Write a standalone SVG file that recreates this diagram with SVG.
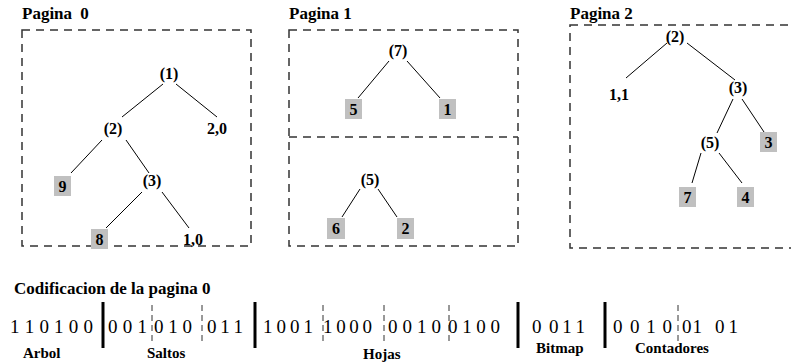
<svg xmlns="http://www.w3.org/2000/svg" width="791" height="363" viewBox="0 0 791 363">
<style>
.page{fill:none;stroke:#333;stroke-width:1.5;stroke-dasharray:8 6}
.edge{stroke:#000;stroke-width:1;fill:none}
.t{font-family:"Liberation Serif","Times New Roman",serif;font-weight:bold;font-size:17px;fill:#000}
.l{font-family:"Liberation Serif","Times New Roman",serif;font-weight:bold;font-size:15px;fill:#000}
.n{font-family:"Liberation Serif","Times New Roman",serif;font-weight:bold;font-size:16px;fill:#000;text-anchor:middle}
.leaf{fill:#c0c0c0}
.bits{font-family:"Liberation Serif","Times New Roman",serif;font-size:19px;fill:#000}
.bar{stroke:#000;stroke-width:3}
.sep{stroke:#333;stroke-width:1;stroke-dasharray:6 4}
</style>
<rect width="791" height="363" fill="#fff"/>
<g id="page0">
<text class="t" x="22" y="19">Pagina <tspan dx="4">0</tspan></text>
<rect class="page" x="22" y="30" width="229" height="216"/>
</g>
<g id="page1">
<text class="t" x="289" y="19">Pagina 1</text>
<rect class="page" x="289" y="30" width="229" height="216"/>
<line class="page" x1="289" y1="137" x2="518" y2="137"/>
</g>
<g id="page2">
<text class="t" x="570" y="19">Pagina 2</text>
<rect class="page" x="570" y="25" width="240" height="223"/>
</g>
<g id="connectors">
<line class="edge" x1="163" y1="84" x2="122" y2="117"/>
<line class="edge" x1="176" y1="84" x2="217" y2="117"/>
<line class="edge" x1="102" y1="140" x2="71" y2="173"/>
<line class="edge" x1="126" y1="140" x2="149" y2="173"/>
<line class="edge" x1="142" y1="192" x2="106" y2="228"/>
<line class="edge" x1="162" y1="192" x2="189" y2="228"/>
<line class="edge" x1="389" y1="61" x2="358" y2="98"/>
<line class="edge" x1="407" y1="61" x2="440" y2="98"/>
<line class="edge" x1="360" y1="189" x2="342" y2="217"/>
<line class="edge" x1="378" y1="189" x2="397" y2="217"/>
<line class="edge" x1="667" y1="43" x2="626" y2="78"/>
<line class="edge" x1="687" y1="43" x2="735" y2="80"/>
<line class="edge" x1="733" y1="99" x2="717" y2="133"/>
<line class="edge" x1="742" y1="99" x2="764" y2="132"/>
<line class="edge" x1="701" y1="153" x2="692" y2="183"/>
<line class="edge" x1="719" y1="153" x2="742" y2="183"/>
</g>
<g id="p0_n1"><text class="n" x="169" y="79">(1)</text></g>
<g id="p0_n2"><text class="n" x="113" y="134">(2)</text></g>
<g id="p0_20"><text class="n" x="217" y="134">2,0</text></g>
<g id="p0_9"><rect class="leaf" x="54" y="176" width="17" height="20"/><text class="n" x="62.5" y="192">9</text></g>
<g id="p0_n3"><text class="n" x="152" y="186">(3)</text></g>
<g id="p0_8"><rect class="leaf" x="91" y="229" width="17" height="20"/><text class="n" x="99.5" y="245">8</text></g>
<g id="p0_10"><text class="n" x="193" y="245">1,0</text></g>
<g id="p1_n7"><text class="n" x="398" y="56">(7)</text></g>
<g id="p1_5"><rect class="leaf" x="345" y="99" width="17" height="20"/><text class="n" x="353.5" y="115">5</text></g>
<g id="p1_1"><rect class="leaf" x="439" y="99" width="17" height="20"/><text class="n" x="447.5" y="115">1</text></g>
<g id="p1_n5"><text class="n" x="370" y="185">(5)</text></g>
<g id="p1_6"><rect class="leaf" x="327" y="218" width="18" height="21"/><text class="n" x="336" y="234">6</text></g>
<g id="p1_2"><rect class="leaf" x="397" y="218" width="17" height="21"/><text class="n" x="405.5" y="234">2</text></g>
<g id="p2_n2"><text class="n" x="675" y="42">(2)</text></g>
<g id="p2_11"><text class="n" x="619" y="100">1,1</text></g>
<g id="p2_n3"><text class="n" x="738" y="93">(3)</text></g>
<g id="p2_3"><rect class="leaf" x="760" y="132" width="17" height="20"/><text class="n" x="768.5" y="148">3</text></g>
<g id="p2_n5"><text class="n" x="710" y="148">(5)</text></g>
<g id="p2_7"><rect class="leaf" x="679" y="187" width="17" height="20"/><text class="n" x="687.5" y="203">7</text></g>
<g id="p2_4"><rect class="leaf" x="737" y="187" width="17" height="20"/><text class="n" x="745.5" y="203">4</text></g>
<g id="encoding">
<text class="t" x="14" y="294">Codificacion de la pagina 0</text>
<text class="bits" x="10" y="333" textLength="83" lengthAdjust="spacing">1 1 0 1 0 0</text>
<text class="bits" x="108" y="333" textLength="39" lengthAdjust="spacing">0 0 1</text>
<text class="bits" x="154" y="333" textLength="38" lengthAdjust="spacing">0 1 0</text>
<text class="bits" x="207" y="333" textLength="36" lengthAdjust="spacing">0 1 1</text>
<text class="bits" x="263" y="333" textLength="50" lengthAdjust="spacing">1 0 0 1</text>
<text class="bits" x="323" y="333" textLength="49" lengthAdjust="spacing">1 0 0 0</text>
<text class="bits" x="388" y="333" textLength="53" lengthAdjust="spacing">0 0 1 0</text>
<text class="bits" x="448" y="333" textLength="52" lengthAdjust="spacing">0 1 0 0</text>
<text class="bits" x="532" y="333">0</text>
<text class="bits" x="549" y="333" textLength="36" lengthAdjust="spacing">0 1 1</text>
<text class="bits" x="613" y="333">0</text>
<text class="bits" x="630" y="333" textLength="42" lengthAdjust="spacing">0 1 0</text>
<text class="bits" x="682" y="333" textLength="20" lengthAdjust="spacing">0 1</text>
<text class="bits" x="715" y="333" textLength="23" lengthAdjust="spacing">0 1</text>
<line class="bar" x1="103" y1="302" x2="103" y2="348"/>
<line class="bar" x1="255" y1="302" x2="255" y2="348"/>
<line class="bar" x1="518" y1="302" x2="518" y2="348"/>
<line class="bar" x1="605" y1="302" x2="605" y2="348"/>
<line class="sep" x1="152" y1="305" x2="152" y2="345"/>
<line class="sep" x1="202" y1="305" x2="202" y2="345"/>
<line class="sep" x1="323" y1="305" x2="323" y2="345"/>
<line class="sep" x1="384" y1="305" x2="384" y2="345"/>
<line class="sep" x1="449" y1="305" x2="449" y2="345"/>
<line class="sep" x1="678" y1="305" x2="678" y2="345"/>
<text class="l" x="23" y="358">Arbol</text>
<text class="l" x="147" y="358">Saltos</text>
<text class="l" x="363" y="359">Hojas</text>
<text class="l" x="536" y="353">Bitmap</text>
<text class="l" x="635" y="353">Contadores</text>
</g>
</svg>
